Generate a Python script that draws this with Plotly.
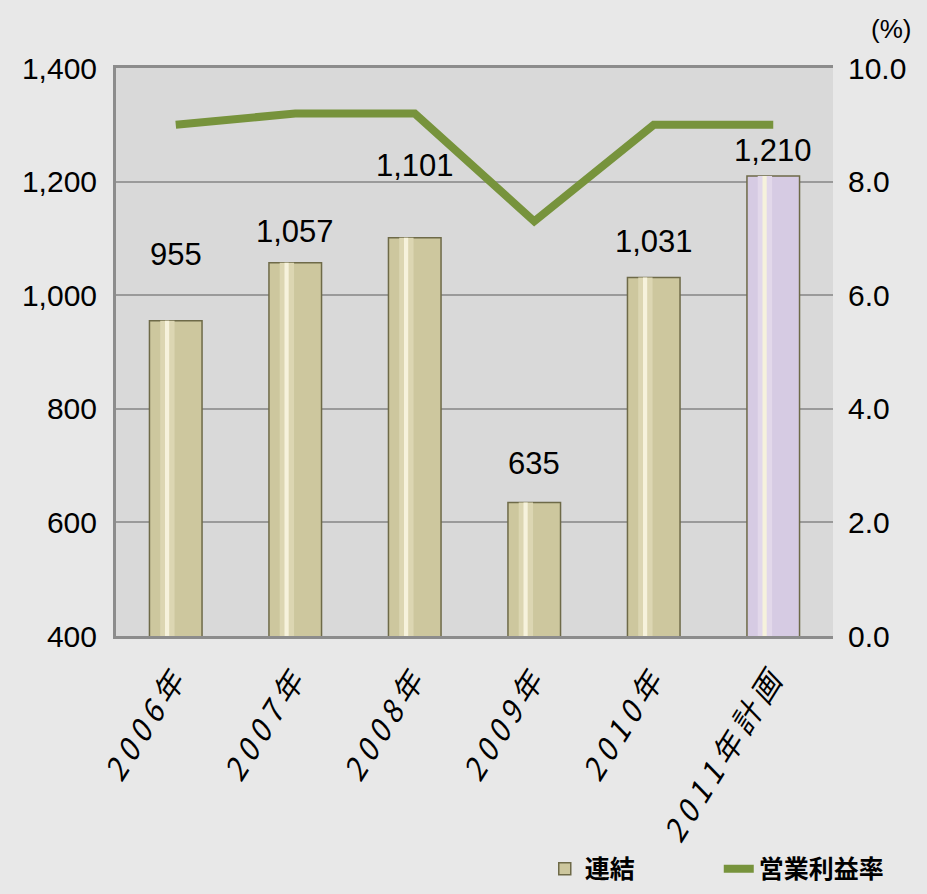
import plotly.graph_objects as go

categories = ["2006年", "2007年", "2008年", "2009年", "2010年", "2011年計画"]
sales = [955, 1057, 1101, 635, 1031, 1210]
margin_pct = [9.0, 9.2, 9.2, 7.3, 9.0, 9.0]
label_shift = [47, 12, 53, 20, 17, 6]

base_colors = ["#cdc79e"] * 5 + ["#d6cbe3"]
mid_colors = ["#dcd6b2"] * 5 + ["#e2d8ea"]
hi_colors = ["#f6f2dc"] * 6

num_font = "Liberation Sans, Arial"
cjk_font = "Noto Sans CJK JP"

cat_ticktext = [f'<span style="letter-spacing:6px">{c}</span>' for c in categories]

fig = go.Figure()
fig.add_trace(go.Bar(
    x=categories, y=sales, base=0, name="連結", width=0.44,
    marker=dict(color=base_colors, line=dict(color="#6e6a48", width=1.5)),
    showlegend=True, hoverinfo="skip",
))
fig.add_trace(go.Bar(
    x=categories, y=sales, base=0, width=0.12, offset=-0.13,
    marker=dict(color=mid_colors, line=dict(width=0)),
    showlegend=False, hoverinfo="skip",
))
fig.add_trace(go.Bar(
    x=categories, y=sales, base=0, width=0.035, offset=-0.09,
    marker=dict(color=hi_colors, line=dict(width=0)),
    showlegend=False, hoverinfo="skip",
))
fig.add_trace(go.Scatter(
    x=categories, y=margin_pct, name="営業利益率", yaxis="y2",
    mode="lines", line=dict(color="#77933c", width=8),
))

for c, v, s in zip(categories, sales, label_shift):
    fig.add_annotation(x=c, y=v, xref="x", yref="y", text=f"{v:,}",
                       showarrow=False, yanchor="bottom", yshift=s,
                       font=dict(family=num_font, size=31, color="#000"))

fig.add_annotation(x=1.0, y=1.0, xref="paper", yref="paper", text="(%)",
                   showarrow=False, xanchor="right", yanchor="bottom",
                   xshift=80, yshift=22,
                   font=dict(family=num_font, size=26, color="#000"))

fig.update_layout(
    width=927, height=894,
    margin=dict(l=116, r=94, t=68, b=258, autoexpand=False),
    paper_bgcolor="#e8e8e8", plot_bgcolor="#d9d9d9",
    barmode="overlay",
    xaxis=dict(
        tickmode="array", tickvals=categories, ticktext=cat_ticktext,
        tickangle=-58,
        tickfont=dict(family=cjk_font, size=30, color="#000", style="italic"),
        showline=True, linecolor="#8c8c8c", linewidth=3, mirror=True,
        ticks="", ticklabelstandoff=8, showgrid=False,
    ),
    yaxis=dict(
        range=[400, 1400], dtick=200, tickformat=",",
        tickfont=dict(family=num_font, size=30, color="#000"),
        showgrid=True, gridcolor="#9a9a9a", gridwidth=2,
        showline=True, linecolor="#8c8c8c", linewidth=3,
        ticks="", ticklabelstandoff=10, zeroline=False,
    ),
    yaxis2=dict(
        range=[0, 10], dtick=2, tickformat=".1f", overlaying="y", side="right",
        tickfont=dict(family=num_font, size=30, color="#000"),
        showgrid=False, showline=False, zeroline=False,
        ticks="", ticklabelstandoff=14,
    ),
    legend=dict(
        orientation="h", x=0.598, y=-0.41, xanchor="left", yanchor="middle",
        font=dict(family=cjk_font, size=25, color="#000", weight="bold"),
        bgcolor="rgba(0,0,0,0)", entrywidth=129, entrywidthmode="pixels",
    ),
)

fig.write_html("out.html", config={"displayModeBar": False},
               post_script="document.body.style.margin='0';")
